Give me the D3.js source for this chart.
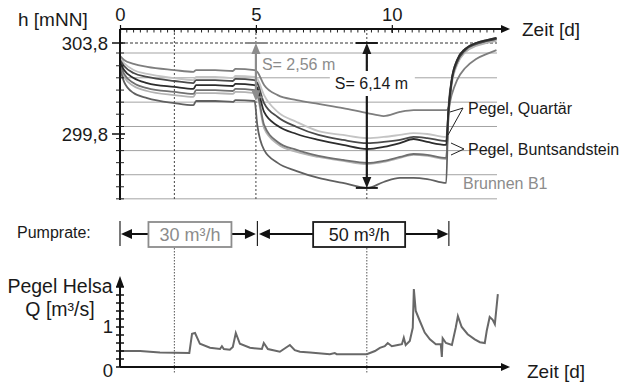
<!DOCTYPE html>
<html>
<head>
<meta charset="utf-8">
<script src="https://cdn.jsdelivr.net/npm/d3@7"></script>
<style>
  body { margin: 0; background: #fff; }
  text { font-family: "Liberation Sans", Arial, sans-serif; fill: #1a1a1a; }
</style>
</head>
<body>
<svg id="chart" width="629" height="383" font-family="'Liberation Sans', Arial, sans-serif"></svg>
<script>
// Time axis of the water level curves (days)
const tDays = [0, 0.15, 0.5, 1, 2, 2.7, 2.8, 3.5, 4.15, 4.25, 4.95, 5.05, 5.3, 5.8, 6.5, 7.3, 8.2, 9.1, 9.7, 10.3, 10.8, 11.3, 12.0, 12.08, 12.2, 12.4, 12.7, 13.1, 13.5, 13.85]

// Water levels h [mNN]
const quartaer1 = [303.23, 303.05, 302.88, 302.75, 302.61, 302.53, 302.61, 302.61, 302.57, 302.66, 302.61, 302.53, 301.95, 301.51, 301.29, 301.12, 300.94, 300.72, 300.59, 300.77, 300.85, 300.85, 300.85, 300.94, 301.51, 302.17, 302.70, 303.10, 303.32, 303.49]
const quartaer2 = [303.14, 302.92, 302.61, 302.44, 302.26, 302.17, 302.31, 302.31, 302.26, 302.35, 302.31, 302.22, 301.51, 300.77, 300.33, 299.93, 299.76, 299.62, 299.67, 299.76, 299.84, 299.80, 299.67, 300.64, 301.95, 302.83, 303.40, 303.71, 303.84, 303.93]
const bunt1 = [303.05, 302.79, 302.48, 302.31, 302.13, 302.04, 302.17, 302.17, 302.13, 302.22, 302.17, 302.04, 301.16, 300.55, 300.11, 299.76, 299.54, 299.40, 299.45, 299.54, 299.67, 299.62, 299.49, 300.77, 302.09, 302.96, 303.49, 303.76, 303.89, 303.98]
const bunt2 = [302.96, 302.61, 302.26, 302.04, 301.87, 301.78, 301.95, 301.95, 301.91, 302.00, 301.95, 301.82, 300.77, 300.16, 299.80, 299.54, 299.32, 299.14, 299.23, 299.40, 299.58, 299.45, 299.32, 300.77, 302.17, 303.05, 303.54, 303.80, 303.93, 304.02]
const bunt3 = [302.88, 302.44, 302.04, 301.82, 301.65, 301.56, 301.73, 301.73, 301.69, 301.78, 301.73, 301.60, 300.20, 299.45, 299.10, 298.84, 298.66, 298.53, 298.62, 298.79, 298.92, 298.88, 298.75, 300.50, 302.09, 302.96, 303.49, 303.76, 303.89, 303.98]
const bunt4 = [302.79, 302.31, 301.91, 301.69, 301.51, 301.43, 301.60, 301.60, 301.56, 301.65, 301.60, 301.47, 300.06, 299.36, 299.01, 298.79, 298.62, 298.48, 298.57, 298.75, 298.88, 298.84, 298.70, 300.42, 302.00, 302.88, 303.40, 303.67, 303.80, 303.89]
const brunnenB1 = [302.70, 302.09, 301.60, 301.38, 301.16, 301.07, 301.25, 301.25, 301.21, 301.29, 301.25, 300.20, 299.10, 298.53, 298.17, 297.87, 297.65, 297.43, 297.69, 297.87, 297.87, 297.82, 297.65, 300.85, 302.17, 303.05, 303.54, 303.80, 303.93, 304.02]

// Discharge Pegel Helsa Q [m³/s]
const qDays = [0, 0.74, 1.1, 1.47, 2.55, 2.65, 2.76, 2.94, 3.31, 3.68, 3.75, 3.82, 4.04, 4.15, 4.26, 4.41, 4.78, 5.22, 5.29, 5.44, 5.88, 6.25, 6.43, 6.62, 6.99, 7.72, 7.9, 7.97, 9.08, 9.38, 9.56, 9.74, 9.85, 10.0, 10.22, 10.37, 10.44, 10.51, 10.66, 10.77, 10.81, 10.88, 11.03, 11.21, 11.4, 11.62, 11.8, 11.84, 11.87, 11.99, 12.21, 12.35, 12.43, 12.57, 12.79, 13.05, 13.24, 13.42, 13.49, 13.6, 13.71, 13.79, 13.9]
const qVals = [0.40, 0.40, 0.38, 0.36, 0.35, 0.83, 0.85, 0.58, 0.48, 0.45, 0.52, 0.45, 0.43, 0.5, 0.85, 0.58, 0.48, 0.45, 0.6, 0.45, 0.38, 0.55, 0.42, 0.38, 0.36, 0.32, 0.35, 0.32, 0.32, 0.4, 0.48, 0.52, 0.6, 0.52, 0.55, 0.57, 0.73, 0.55, 0.65, 0.98, 1.95, 1.4, 1.15, 0.86, 0.69, 0.57, 0.57, 0.25, 0.72, 0.6, 0.55, 0.98, 1.27, 1.0, 0.82, 0.69, 0.62, 0.6, 0.9, 1.25, 1.18, 1.07, 1.82]

// Ticks, grid and markers
const dayTicks = [0, 5, 10]
const hTicks = [303.8, 299.8]
const hGrid = [303.36, 302.27, 301.2, 300.13, 299.07, 298.01, 296.95]
const hMinor = [303.36, 302.8, 302.27, 301.73, 301.2, 300.67, 300.13, 299.6, 299.07, 298.54, 298.01, 297.48, 296.95]
const qTicks = [0, 1]
const qMinor = [0.2, 0.4, 0.6, 0.8, 1.2, 1.4, 1.6, 1.8, 2.0]
const markTop = [2, 5, 9.08]
const markBottom = [2, 9.08]
const hRef = 303.8

// Pumping phases
const pumpFrom = [0, 5]
const pumpTo = [5, 12.08]
const pumpLabels = ['30 m³/h', '50 m³/h']

// Drawdown annotations
const sDays = [5, 9.08]
const sLow = [301.24, 297.43]
const sLabels = ['S= 2,56 m', 'S= 6,14 m']

const svg = d3.select('#chart')

const x = d3.scaleLinear().domain([0, 14.2]).range([120, 506])
const yH = d3.scaleLinear().domain([299.8, 303.8]).range([134, 43])
const yQ = d3.scaleLinear().domain([0, 1]).range([367, 327])

const xEnd = 497
const topAxisY = 29
const topBottomY = 200

// grid lines
svg.append('g').selectAll('line').data(hGrid).join('line')
  .attr('x1', 120).attr('x2', xEnd)
  .attr('y1', d => yH(d)).attr('y2', d => yH(d))
  .attr('stroke', '#a3a3a3').attr('stroke-width', 1)

svg.append('line')
  .attr('x1', 120).attr('x2', xEnd)
  .attr('y1', yH(hRef)).attr('y2', yH(hRef))
  .attr('stroke', '#333').attr('stroke-dasharray', '3,2')

svg.append('g').selectAll('line').data(markTop).join('line')
  .attr('x1', d => x(d)).attr('x2', d => x(d))
  .attr('y1', topAxisY).attr('y2', topBottomY)
  .attr('stroke', '#444').attr('stroke-dasharray', '2,2')

// water level lines
const levels = [
  { v: quartaer2, c: '#c4c4c4' },
  { v: bunt4, c: '#b3b3b3' },
  { v: quartaer1, c: '#7e7e7e' },
  { v: bunt3, c: '#707070' },
  { v: brunnenB1, c: '#606060' },
  { v: bunt1, c: '#4a4a4a' },
  { v: bunt2, c: '#2c2c2c' },
]
const line = d3.line()
  .x((d, i) => x(tDays[i]))
  .y(d => yH(d))
  .curve(d3.curveMonotoneX)

svg.append('g').selectAll('path').data(levels).join('path')
  .attr('d', d => line(d.v))
  .attr('fill', 'none')
  .attr('stroke', d => d.c)
  .attr('stroke-width', 1.8)

// top axis
const gTop = svg.append('g').attr('transform', `translate(0,${topAxisY})`)
gTop.call(d3.axisTop(x).tickValues(dayTicks).tickSize(5).tickPadding(3))
gTop.select('.domain').remove()
gTop.attr('font-family', null)
gTop.selectAll('.tick line').attr('stroke', '#111').attr('y2', 4).attr('y1', -4).attr('stroke-width', 1.2)
gTop.selectAll('.tick text').attr('font-size', 18.5).attr('fill', '#1a1a1a')
gTop.selectAll('.minor').data(d3.range(0, 14, 0.25)).join('line')
  .attr('x1', d => x(d)).attr('x2', d => x(d))
  .attr('y1', 0).attr('y2', 3.5)
  .attr('stroke', '#222')
svg.append('line').attr('x1', 120).attr('x2', 503).attr('y1', topAxisY).attr('y2', topAxisY)
  .attr('stroke', '#111').attr('stroke-width', 2)
svg.append('path').attr('d', `M510,${topAxisY}L501,${topAxisY - 4}L501,${topAxisY + 4}Z`).attr('fill', '#111')

// left axis
svg.append('line').attr('x1', 120).attr('x2', 120).attr('y1', topAxisY).attr('y2', topBottomY)
  .attr('stroke', '#111').attr('stroke-width', 2)
svg.append('g').selectAll('line').data(hMinor).join('line')
  .attr('x1', 116).attr('x2', 124)
  .attr('y1', d => yH(d)).attr('y2', d => yH(d))
  .attr('stroke', '#222')
svg.append('g').selectAll('line').data(hTicks).join('line')
  .attr('x1', 112).attr('x2', 125)
  .attr('y1', d => yH(d)).attr('y2', d => yH(d))
  .attr('stroke', '#111').attr('stroke-width', 1.5)
svg.append('g').selectAll('text').data(hTicks).join('text')
  .attr('x', 108).attr('y', d => yH(d) + 6.5)
  .attr('text-anchor', 'end').attr('font-size', 18.5)
  .text(d => d3.format('.1f')(d).replace('.', ','))

svg.append('text').attr('x', 18).attr('y', 26).attr('font-size', 19).text('h [mNN]')
svg.append('text').attr('x', 522).attr('y', 36).attr('font-size', 19).text('Zeit [d]')

// drawdown arrows
const sColors = ['#8c8c8c', '#1a1a1a']
sDays.forEach((d, i) => {
  const ax = x(d)
  const y0 = yH(hRef)
  const y1 = yH(sLow[i])
  const c = sColors[i]
  const g = svg.append('g')
  g.append('line').attr('x1', ax).attr('x2', ax).attr('y1', y0 + 8).attr('y2', y1 - 8)
    .attr('stroke', c).attr('stroke-width', 2.2)
  g.append('path').attr('d', `M${ax},${y0}L${ax - 4.5},${y0 + 11}L${ax + 4.5},${y0 + 11}Z`).attr('fill', c)
  g.append('path').attr('d', `M${ax},${y1}L${ax - 4.5},${y1 - 11}L${ax + 4.5},${y1 - 11}Z`).attr('fill', c)
  g.append('line').attr('x1', ax - 11).attr('x2', ax + 11).attr('y1', y0).attr('y2', y0)
    .attr('stroke', c).attr('stroke-width', 2)
  if (i === 1) {
    g.append('line').attr('x1', ax - 11).attr('x2', ax + 11).attr('y1', y1).attr('y2', y1)
      .attr('stroke', c).attr('stroke-width', 2)
  } else {
    g.append('line').attr('x1', ax).attr('x2', ax + 7).attr('y1', y1 - 4).attr('y2', y1 - 4)
      .attr('stroke', c).attr('stroke-width', 2)
  }
})
// label 1
svg.append('rect').attr('x', x(sDays[0]) + 5).attr('y', 56).attr('width', 76).attr('height', 16).attr('fill', '#fff')
svg.append('text').attr('x', x(sDays[0]) + 6).attr('y', 70).attr('font-size', 16)
  .style('fill', '#8c8c8c').text(sLabels[0])
// label 2
svg.append('rect').attr('x', x(sDays[1]) - 37).attr('y', 71).attr('width', 85).attr('height', 25).attr('fill', '#fff')
svg.append('text').attr('x', x(sDays[1]) - 32).attr('y', 89).attr('font-size', 16).text(sLabels[1])

// series labels with leaders
const leader = [
  [[463, 108], [450, 112]], [[463, 108], [448, 135]],
  [[464, 149], [451, 143]], [[464, 149], [451, 155]],
]
svg.append('g').selectAll('line').data(leader).join('line')
  .attr('x1', d => d[0][0]).attr('y1', d => d[0][1])
  .attr('x2', d => d[1][0]).attr('y2', d => d[1][1])
  .attr('stroke', '#222').attr('stroke-width', 1)
svg.append('text').attr('x', 468).attr('y', 114).attr('font-size', 16).text('Pegel, Quartär')
svg.append('text').attr('x', 468).attr('y', 155).attr('font-size', 16).text('Pegel, Buntsandstein')
svg.append('text').attr('x', 463).attr('y', 189).attr('font-size', 16).style('fill', '#8c8c8c').text('Brunnen B1')

// Pumprate row
const pumpY = 234
svg.append('text').attr('x', 17).attr('y', 238).attr('font-size', 16).text('Pumprate:')
const boxShift = [2, 7]
const boxW = [83, 92]
const boxColors = ['#8c8c8c', '#1a1a1a']
const barX = [x(pumpFrom[0]), x(pumpTo[0]) + 1.5, x(pumpTo[1]) + 0.5]
svg.append('g').selectAll('line').data(barX).join('line')
  .attr('x1', d => d).attr('x2', d => d).attr('y1', 221).attr('y2', 246)
  .attr('stroke', '#222').attr('stroke-width', 1.2)
pumpFrom.forEach((f, i) => {
  const left = x(f) + (i === 0 ? 1 : 3)
  const right = x(pumpTo[i])
  const cx = (x(f) + x(pumpTo[i])) / 2 + boxShift[i]
  const bl = cx - boxW[i] / 2
  const br = cx + boxW[i] / 2
  const g = svg.append('g')
  g.append('line').attr('x1', left + 9).attr('x2', bl).attr('y1', pumpY).attr('y2', pumpY)
    .attr('stroke', '#111').attr('stroke-width', 2)
  g.append('line').attr('x1', br).attr('x2', right - 9).attr('y1', pumpY).attr('y2', pumpY)
    .attr('stroke', '#111').attr('stroke-width', 2)
  g.append('path').attr('d', `M${left},${pumpY}L${left + 11},${pumpY - 5}L${left + 11},${pumpY + 5}Z`).attr('fill', '#111')
  g.append('path').attr('d', `M${right},${pumpY}L${right - 11},${pumpY - 5}L${right - 11},${pumpY + 5}Z`).attr('fill', '#111')
  g.append('rect').attr('x', bl).attr('y', 222).attr('width', boxW[i]).attr('height', 25)
    .attr('fill', '#fff').attr('stroke', boxColors[i]).attr('stroke-width', 1.8)
  g.append('text').attr('x', cx).attr('y', 241).attr('text-anchor', 'middle').attr('font-size', 18)
    .style('fill', boxColors[i]).text(pumpLabels[i])
})

// bottom chart
svg.append('g').selectAll('line').data(markBottom).join('line')
  .attr('x1', d => x(d)).attr('x2', d => x(d))
  .attr('y1', 248).attr('y2', 374)
  .attr('stroke', '#555').attr('stroke-dasharray', '1.5,1.5')

const qLine = d3.line().x((d, i) => x(qDays[i])).y(d => yQ(d))
svg.append('path').attr('d', qLine(qVals))
  .attr('fill', 'none').attr('stroke', '#686868').attr('stroke-width', 2)

svg.append('line').attr('x1', 120).attr('x2', 120).attr('y1', yQ(0)).attr('y2', 284)
  .attr('stroke', '#111').attr('stroke-width', 2)
svg.append('path').attr('d', 'M120,276L116,287L124,287Z').attr('fill', '#111')
svg.append('g').selectAll('line').data(qMinor.concat(qTicks)).join('line')
  .attr('x1', 116).attr('x2', 124)
  .attr('y1', d => yQ(d)).attr('y2', d => yQ(d))
  .attr('stroke', '#111').attr('stroke-width', 1.5)
svg.append('line').attr('x1', 120).attr('x2', 503).attr('y1', yQ(0)).attr('y2', yQ(0))
  .attr('stroke', '#111').attr('stroke-width', 2)
svg.append('path').attr('d', `M510,${yQ(0)}L501,${yQ(0) - 4}L501,${yQ(0) + 4}Z`).attr('fill', '#111')
svg.append('g').selectAll('text').data(qTicks).join('text')
  .attr('x', 113).attr('y', d => yQ(d) + (d === 0 ? 10 : 6))
  .attr('text-anchor', 'end').attr('font-size', 18.5)
  .text(d => d)

svg.append('text').attr('x', 60).attr('y', 293).attr('text-anchor', 'middle').attr('font-size', 19.5).text('Pegel Helsa')
svg.append('text').attr('x', 60).attr('y', 316).attr('text-anchor', 'middle').attr('font-size', 19.5).text('Q [m³/s]')
svg.append('text').attr('x', 527).attr('y', 378).attr('font-size', 19).text('Zeit [d]')
</script>
</body>
</html>
